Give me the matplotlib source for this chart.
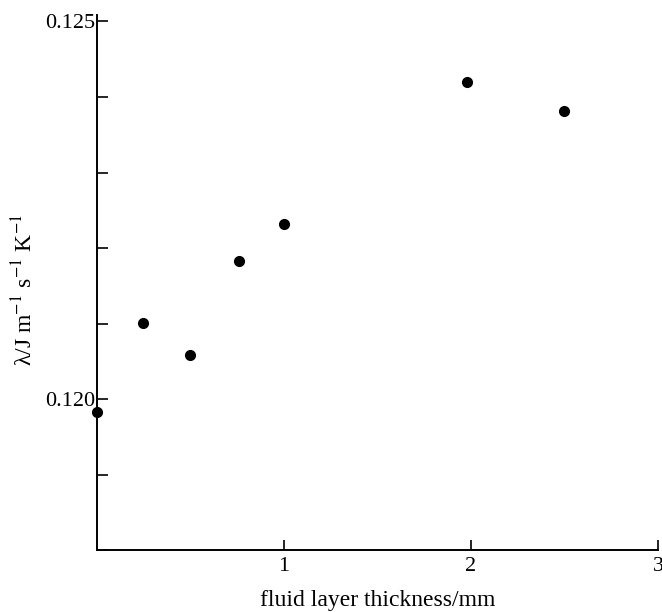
import matplotlib
matplotlib.use("Agg")
import matplotlib.pyplot as plt
from matplotlib.ticker import MultipleLocator, FixedLocator

# fluid layer thickness (mm) and measured thermal conductivity
thickness = [0.0, 0.25, 0.5, 0.76, 1.0, 1.98, 2.5]
conductivity = [0.11983, 0.12101, 0.12059, 0.12183, 0.12232, 0.12420, 0.12381]

X_TICKS = [1, 2, 3]
X_TICK_LABELS = ["1", "2", "3"]
Y_TICKS = [0.120, 0.125]
Y_TICK_LABELS = ["0.120", "0.125"]

plt.rcParams["font.family"] = ["Liberation Serif", "DejaVu Serif"]
plt.rcParams["mathtext.fontset"] = "stix"

fig = plt.figure(figsize=(6.62, 6.12), dpi=100)
ax = fig.add_axes([0.146, 0.101, 0.848, 0.875])

ax.plot(thickness, conductivity, "o", color="black", markersize=7,
        clip_on=False, zorder=5)

ax.set_xlim(0, 3)
ax.set_ylim(0.118, 0.12509)

ax.xaxis.set_major_locator(FixedLocator(X_TICKS))
ax.set_xticklabels(X_TICK_LABELS)
ax.yaxis.set_major_locator(FixedLocator(Y_TICKS))
ax.set_yticklabels(Y_TICK_LABELS)
ax.yaxis.set_minor_locator(MultipleLocator(0.001))

for side in ["top", "right"]:
    ax.spines[side].set_visible(False)
for side in ["left", "bottom"]:
    ax.spines[side].set_linewidth(1.4)

ax.tick_params(axis="both", which="both", direction="in", width=1.2,
               labelsize=16, colors="black")
ax.tick_params(axis="x", length=7, pad=5)
ax.tick_params(axis="y", which="both", length=8, pad=1)

ax.set_xlabel("fluid layer thickness/mm", fontsize=17, labelpad=10)
ax.set_ylabel("λ/J m$^{-1}$ s$^{-1}$ K$^{-1}$", fontsize=17, labelpad=6)
ax.yaxis.label.set_y(0.486)

plt.savefig("out.png", dpi=100)
plt.close()
